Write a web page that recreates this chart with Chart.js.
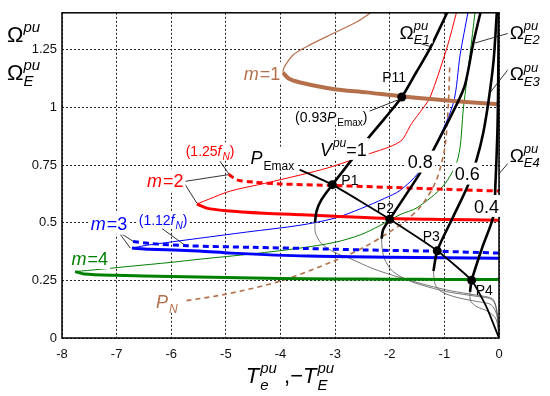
<!DOCTYPE html>
<html>
<head>
<meta charset="utf-8">
<script src="https://cdn.jsdelivr.net/npm/chart.js@4.4.1/dist/chart.umd.min.js"></script>
<style>
  html, body { margin: 0; background: #fff; }
  #wrap { width: 550px; height: 396px; }
</style>
</head>
<body>
<div id="wrap"><canvas id="chart"></canvas></div>
<script>
// --- DATA ---
const xTicks = [-8, -7, -6, -5, -4, -3, -2, -1, 0];
const xTickLabels = ['-8', '-7', '-6', '-5', '-4', '-3', '-2', '-1', '0'];
const yTicks = [0, 0.25, 0.5, 0.75, 1, 1.25];
const yTickLabels = ['0', '0.25', '0.5', '0.75', '1', '1.25'];

// m = 1 (brown)
const m1Thin = [[-3.96,1.155],[-3.92,1.18],[-3.76,1.229],[-3.46,1.271],[-3.03,1.321],[-2.6,1.371],[-2.35,1.41]];
const m1Thick = [[-3.96,1.152],[-3.85,1.125],[-3.64,1.108],[-3.04,1.08],[-2.42,1.065],[-1.8,1.048],[-0.95,1.03],[0,1.013]];
// m = 2 (red)
const m2Thin = [[-5.53,0.581],[-5.3,0.603],[-4.92,0.637],[-4.3,0.67],[-3.46,0.717],[-3.03,0.745],[-2.42,0.795],[-1.81,0.852],[-1.6,0.93],[-1.38,1.0],[-1.26,1.044],[-0.955,1.257],[-0.78,1.41]];
const m2Thick = [[-5.53,0.581],[-5.35,0.563],[-5.0,0.552],[-4.3,0.541],[-3.6,0.534],[-3.0,0.528],[-2.0,0.518],[-1.0,0.514],[0,0.511]];
const m2Dash = [[-4.95,0.71],[-4.8,0.686],[-4.5,0.676],[-4.0,0.668],[-3.0,0.661],[-2.0,0.653],[-1.0,0.645],[0,0.637]];
// m = 3 (blue)
const m3Thin = [[-6.72,0.39],[-6.45,0.402],[-5.5,0.432],[-4.6,0.46],[-3.64,0.489],[-3.0,0.52],[-2.54,0.56],[-2.1,0.605],[-1.81,0.64],[-1.47,0.717],[-1.2,0.82],[-0.84,1.015],[-0.71,1.23],[-0.57,1.41]];
const m3Thick = [[-6.72,0.39],[-6.4,0.385],[-5.5,0.377],[-4.9,0.368],[-3.5,0.355],[-2.0,0.35],[-1.0,0.348],[0,0.346]];
const m3Dash = [[-6.7,0.418],[-6.4,0.41],[-5.7,0.4],[-4.5,0.393],[-3.5,0.388],[-2.5,0.382],[-1.13,0.376],[0,0.368]];
// m = 4 (green)
const m4Thin = [[-7.76,0.288],[-7.3,0.298],[-6.75,0.311],[-6.0,0.328],[-5.47,0.342],[-4.5,0.365],[-3.64,0.39],[-3.0,0.415],[-2.54,0.447],[-2.2,0.485],[-1.81,0.535],[-1.5,0.565],[-1.02,0.66],[-0.75,0.78],[-0.65,1.0],[-0.53,1.23],[-0.44,1.41]];
const m4Thick = [[-7.76,0.288],[-7.6,0.278],[-7.0,0.272],[-6.0,0.267],[-5.0,0.262],[-4.0,0.258],[-3.0,0.256],[-2.0,0.255],[-1.0,0.254],[0,0.254]];
// P_N (brown dashed)
const pnCurve = [[-5.72,0.162],[-5.0,0.19],[-4.0,0.247],[-3.03,0.333],[-2.5,0.39],[-2.0,0.46],[-1.7,0.51],[-1.4,0.58],[-1.14,0.688],[-0.99,0.83],[-0.93,1.0],[-0.9,1.19]];
// voltage curves V = 1, 0.8, 0.6, 0.4 (stable thick, unstable thin)
const v10Thick = [[-0.95,1.41],[-1.26,1.257],[-1.52,1.15],[-1.78,1.045],[-2.1,0.95],[-2.42,0.859],[-2.67,0.781],[-3.05,0.665],[-3.25,0.6],[-3.34,0.55],[-3.37,0.5]];
const v10Thin = [[-3.37,0.5],[-3.36,0.455],[-3.25,0.41],[-3.0,0.37],[-2.73,0.345],[-2.3,0.3],[-1.81,0.262],[-1.3,0.228],[-0.89,0.205],[-0.4,0.185],[-0.12,0.17],[-0.04,0.12],[0,0]];
const v08Thick = [[-0.34,1.41],[-0.47,1.279],[-0.62,1.1],[-0.77,1.015],[-1.2,0.816],[-1.44,0.717],[-2.0,0.515],[-2.12,0.47],[-2.15,0.43]];
const v08Thin = [[-2.15,0.43],[-2.14,0.39],[-2.1,0.345],[-1.95,0.29],[-1.63,0.247],[-1.2,0.215],[-0.89,0.198],[-0.4,0.18],[-0.12,0.165],[-0.03,0.1],[0,0]];
const v06Thick = [[-0.04,1.41],[-0.1,1.2],[-0.19,1.03],[-0.29,0.888],[-0.41,0.773],[-0.56,0.667],[-0.85,0.52],[-1.13,0.378],[-1.2,0.29]];
const v06Thin = [[-1.2,0.29],[-1.17,0.233],[-1.05,0.2],[-0.77,0.176],[-0.4,0.158],[-0.15,0.145],[-0.04,0.1],[0,0]];
const v04Thick = [[-0.005,1.41],[-0.015,1.1],[-0.03,0.887],[-0.07,0.64],[-0.1,0.53],[-0.31,0.39],[-0.5,0.25],[-0.53,0.2]];
const v04Thin = [[-0.53,0.2],[-0.52,0.16],[-0.4,0.135],[-0.2,0.115],[-0.05,0.08],[0,0]];
// max power locus and operating points
const pEmaxCurve = [[-3.65,0.73],[-3.05,0.665],[-2.0,0.515],[-1.13,0.378],[-0.5,0.25],[-0.22,0.13],[0,0]];
const opPoints = [[-3.05,0.665],[-2.0,0.515],[-1.13,0.378],[-0.5,0.25],[-1.78,1.045]];
// label leader lines
const leaders = [
  [[-2.40,0.981],[-1.85,1.032]],
  [[-5.78,0.678],[-4.96,0.708]], [[-5.78,0.678],[-5.53,0.584]],
  [[-5.11,0.767],[-4.92,0.703]],
  [[-6.97,0.461],[-6.69,0.418]], [[-6.97,0.461],[-6.75,0.39]],
  [[-6.17,0.475],[-5.72,0.397]],
  [[-1.47,1.279],[-1.26,1.264]],
  [[0.17,1.321],[-0.44,1.279]],
  [[0.17,1.165],[-0.16,1.065]],
  [[0.17,0.759],[-0.01,0.709]]
];

// --- STYLE ---
const BROWN = '#b5704b', RED = '#ff0000', BLUE = '#0000ff', GREEN = '#008000', GRAY = '#555';
const FONT = "'Liberation Sans', Arial, sans-serif";

// text labels: parts = [text, kind]; n normal, i italic, b italic sub, B upright sub, p italic sup, s stacked [sub, sup]
const textLabels = [
  { at: [-4.34, 1.148], c: BROWN, size: 18, bg: true, parts: [['m','i'],['=1','n']] },
  { at: [-5.29, 0.811], c: RED, size: 14, bg: true, parts: [['(1.25','n'],['f','i'],['N','b'],[')','n']] },
  { at: [-6.11, 0.683], c: RED, size: 18, bg: true, parts: [['m','i'],['=2','n']] },
  { at: [-6.15, 0.512], c: BLUE, size: 14, bg: true, parts: [['(1.12','n'],['f','i'],['N','b'],[')','n']] },
  { at: [-7.14, 0.495], c: BLUE, size: 18, bg: true, parts: [['m','i'],['=3','n']] },
  { at: [-7.49, 0.346], c: GREEN, size: 18, bg: true, parts: [['m','i'],['=4','n']] },
  { at: [-6.08, 0.158], c: BROWN, size: 18, bg: true, parts: [['P','i'],['N','b']] },
  { at: [-4.15, 0.781], c: '#000', size: 18, bg: true, parts: [['P','i'],['Emax','B']] },
  { at: [-2.85, 0.819], c: '#000', size: 18, bg: true, parts: [['V','i'],['pu','p'],['=1','n']] },
  { at: [-1.44, 0.764], c: '#000', size: 18, bg: true, parts: [['0.8','n']] },
  { at: [-0.58, 0.712], c: '#000', size: 18, bg: true, parts: [['0.6','n']] },
  { at: [-0.23, 0.572], c: '#000', size: 18, bg: true, parts: [['0.4','n']] },
  { at: [-3.07, 0.96], c: '#000', size: 14, bg: true, parts: [['(0.93','n'],['P','i'],['Emax','B'],[')','n']] },
  { at: [-2.73, 0.687], c: '#000', size: 14, bg: false, parts: [['P1','n']] },
  { at: [-2.08, 0.563], c: '#000', size: 14, bg: false, parts: [['P2','n']] },
  { at: [-1.24, 0.444], c: '#000', size: 14, bg: false, parts: [['P3','n']] },
  { at: [-0.27, 0.209], c: '#000', size: 14, bg: false, parts: [['P4','n']] },
  { at: [-1.92, 1.131], c: '#000', size: 14, bg: false, parts: [['P11','n']] },
  { at: [-1.535, 1.327], c: '#000', size: 19, bg: true, parts: [['Ω','n'],[['E1','pu'],'s']] },
  { at: [0.48, 1.327], c: '#000', size: 19, bg: true, parts: [['Ω','n'],[['E2','pu'],'s']] },
  { at: [0.48, 1.148], c: '#000', size: 19, bg: true, parts: [['Ω','n'],[['E3','pu'],'s']] },
  { at: [0.48, 0.794], c: '#000', size: 19, bg: true, parts: [['Ω','n'],[['E4','pu'],'s']] }
];
const yTitle1 = [['Ω','n'],['pu','p']];
const yTitle2 = [['Ω','n'],[['E','pu'],'s']];
const xTitle = [['T','i'],[['e','pu'],'s'],[' ,\u2212','n'],['T','i'],[['E','pu'],'s']];

// --- TEXT HELPERS ---
function partFont(kind, size) {
  const small = 'bBps'.includes(kind);
  const italic = 'ibps'.includes(kind);
  return (italic ? 'italic ' : '') + Math.round(small ? size * 0.68 : size) + 'px ' + FONT;
}
function partWidth(ctx, t, k, size) {
  ctx.font = partFont(k, size);
  if (k === 's') return Math.max(ctx.measureText(t[0]).width, ctx.measureText(t[1]).width) + 1;
  return ctx.measureText(t).width + (k === 'i' ? 1 : 0);
}
function partsWidth(ctx, parts, size) {
  return parts.reduce((w, [t, k]) => w + partWidth(ctx, t, k, size), 0);
}
function drawParts(ctx, parts, x, base, size, color) {
  ctx.fillStyle = color;
  ctx.textAlign = 'left';
  ctx.textBaseline = 'alphabetic';
  parts.forEach(([t, k]) => {
    ctx.font = partFont(k, size);
    if (k === 's') {
      ctx.fillText(t[0], x, base + size * 0.3);
      ctx.fillText(t[1], x, base - size * 0.45);
    } else {
      const dy = (k === 'b' || k === 'B') ? size * 0.3 : (k === 'p' ? -size * 0.45 : 0);
      ctx.fillText(t, x, base + dy);
    }
    x += partWidth(ctx, t, k, size);
  });
}

const overlay = {
  id: 'overlay',
  afterDatasetsDraw(chart) {
    const { ctx, chartArea: a, scales: { x, y } } = chart;
    ctx.save();
    // box round the plot
    ctx.strokeStyle = '#000';
    ctx.lineWidth = 1.5;
    ctx.setLineDash([]);
    ctx.strokeRect(a.left, a.top, a.right - a.left, a.bottom - a.top);
    // labels
    textLabels.forEach(l => {
      const px = x.getPixelForValue(l.at[0]);
      const py = y.getPixelForValue(l.at[1]);
      const w = partsWidth(ctx, l.parts, l.size);
      const x0 = px - w / 2;
      if (l.bg) {
        ctx.fillStyle = '#fff';
        ctx.fillRect(x0 - 2, py - l.size * 0.62, w + 4, l.size * 1.22);
      }
      drawParts(ctx, l.parts, x0, py + l.size * 0.36, l.size, l.c);
    });
    // axis titles
    drawParts(ctx, yTitle1, 7, a.top + 29, 22, '#000');
    drawParts(ctx, yTitle2, 7, a.top + 67, 22, '#000');
    const xw = partsWidth(ctx, xTitle, 22);
    drawParts(ctx, xTitle, (a.left + a.right) / 2 + 10 - xw / 2, a.bottom + 45, 22, '#000');
    ctx.restore();
  }
};

// --- DATASETS ---
const pts = arr => arr.map(([x, y]) => ({ x, y }));
function line(data, color, width, extra) {
  return Object.assign({
    data: pts(data), borderColor: color, borderWidth: width, showLine: true,
    pointRadius: 0, fill: false, tension: 0.3
  }, extra || {});
}

// listed bottom layer first
const layers = [];
leaders.forEach(l => layers.push(line(l, '#000', 0.8, { tension: 0, clip: false })));
layers.push(line(m1Thin, BROWN, 1.2));
layers.push(line(m2Thin, RED, 1));
layers.push(line(m3Thin, BLUE, 1));
layers.push(line(m4Thin, GREEN, 1));
layers.push(line(pnCurve, BROWN, 1.6, { borderDash: [5, 4] }));
[v10Thin, v08Thin, v06Thin, v04Thin].forEach(v => layers.push(line(v, GRAY, 0.8)));
layers.push(line(m4Thick, GREEN, 3));
layers.push(line(m3Thick, BLUE, 3));
layers.push(line(m3Dash, BLUE, 3, { borderDash: [6, 4] }));
layers.push(line(m2Thick, RED, 3));
layers.push(line(m2Dash, RED, 3, { borderDash: [6, 4] }));
layers.push(line(m1Thick, BROWN, 4));
[v10Thick, v08Thick, v06Thick, v04Thick].forEach(v => layers.push(line(v, '#000', 2.6)));
layers.push(line(pEmaxCurve, '#000', 1.8, { tension: 0.15 }));
layers.push({ data: pts(opPoints), showLine: false, pointRadius: 4.5, pointBackgroundColor: '#000', pointBorderWidth: 0 });

// --- CHART ---
const tickFont = { family: FONT, size: 13 };
new Chart(document.getElementById('chart'), {
  type: 'scatter',
  data: { datasets: layers.reverse() },
  options: {
    responsive: true,
    maintainAspectRatio: false,
    animation: false,
    events: [],
    layout: { padding: { top: 8, right: 51, left: 0, bottom: 0 } },
    plugins: { legend: { display: false }, tooltip: { enabled: false } },
    scales: {
      x: {
        type: 'linear', min: -8, max: 0,
        afterBuildTicks: s => { s.ticks = xTicks.map(v => ({ value: v })); },
        afterFit: s => { s.height = 58; },
        ticks: { font: tickFont, color: '#111', padding: 9, maxRotation: 0, callback: (v, i) => xTickLabels[i] },
        grid: { color: '#222', lineWidth: 1, drawTicks: false },
        border: { display: false, dash: [2, 2] }
      },
      y: {
        type: 'linear', min: 0, max: 1.41,
        afterBuildTicks: s => { s.ticks = yTicks.map(v => ({ value: v })); },
        afterFit: s => { s.width = 62; },
        ticks: { font: tickFont, color: '#111', padding: 5, callback: (v, i) => yTickLabels[i] },
        grid: { color: '#222', lineWidth: 1, drawTicks: false },
        border: { display: false, dash: [2, 2] }
      }
    }
  },
  plugins: [overlay]
});
</script>
</body>
</html>
